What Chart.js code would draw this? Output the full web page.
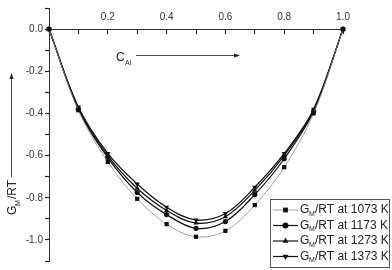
<!DOCTYPE html>
<html>
<head>
<meta charset="utf-8">
<script src="https://cdn.jsdelivr.net/npm/chart.js@4"></script>
<style>
  html, body { margin: 0; padding: 0; background: #fff; }
  #wrap { width: 392px; height: 270px; }
</style>
</head>
<body>
<div id="wrap"><canvas id="gm-chart"></canvas></div>
<script>
var cAl = [0, 0.1, 0.2, 0.3, 0.4, 0.5, 0.6, 0.7, 0.8, 0.9, 1.0];
var g1073 = [0, -0.385, -0.63, -0.805, -0.925, -0.985, -0.957, -0.835, -0.655, -0.40, 0];
var g1173 = [0, -0.38, -0.61, -0.775, -0.88, -0.945, -0.913, -0.785, -0.615, -0.39, 0];
var g1273 = [0, -0.375, -0.60, -0.755, -0.86, -0.92, -0.89, -0.765, -0.60, -0.385, 0];
var g1373 = [0, -0.37, -0.59, -0.735, -0.845, -0.905, -0.875, -0.75, -0.59, -0.38, 0];
var temps = ['1073', '1173', '1273', '1373'];

function pts(ys) {
    return cAl.map(function (x, i) { return {x: x, y: ys[i]}; });
}

function series(label, ys, style, rot, color, width) {
    return {
        label: label,
        data: pts(ys),
        borderColor: color,
        borderWidth: width,
        backgroundColor: '#111',
        pointBackgroundColor: '#111',
        pointBorderColor: '#111',
        pointBorderWidth: 0,
        pointStyle: style,
        pointRotation: rot,
        pointRadius: style === 'circle' ? 2.6 : 3,
        tension: 0.35,
        clip: false
    };
}

// legend + axis annotations drawn on the canvas
var extras = {
    id: 'extras',
    afterDraw: function (chart) {
        var c = chart.ctx;
        c.save();
        c.fillStyle = '#222';
        c.strokeStyle = '#222';

        // C_Al arrow
        c.font = '12px "Liberation Sans", Arial, sans-serif';
        c.textBaseline = 'alphabetic';
        c.fillText('C', 116, 61);
        c.font = '7px "Liberation Sans", Arial, sans-serif';
        c.fillText('Al', 125, 65);
        c.lineWidth = 0.8;
        c.beginPath();
        c.moveTo(136, 55.5);
        c.lineTo(236, 55.5);
        c.stroke();
        c.beginPath();
        c.moveTo(240, 55.5);
        c.lineTo(234, 53.5);
        c.lineTo(234, 57.5);
        c.closePath();
        c.fill();

        // y title G_M/RT with arrow
        c.save();
        c.translate(16, 198);
        c.rotate(-Math.PI / 2);
        c.font = '12px "Liberation Sans", Arial, sans-serif';
        c.fillText('G', -17, 0);
        c.font = '7px "Liberation Sans", Arial, sans-serif';
        c.fillText('M', -8, 4);
        c.font = '12px "Liberation Sans", Arial, sans-serif';
        c.fillText('/RT', -1, 0);
        c.restore();
        c.beginPath();
        c.moveTo(11.5, 177);
        c.lineTo(11.5, 78);
        c.stroke();
        c.beginPath();
        c.moveTo(11.5, 73);
        c.lineTo(9.5, 79);
        c.lineTo(13.5, 79);
        c.closePath();
        c.fill();

        // legend box
        c.lineWidth = 1;
        c.strokeStyle = '#555';
        c.strokeRect(270.5, 199.5, 119, 68);
        var ds = chart.data.datasets;
        for (var i = 0; i < ds.length; i++) {
            var y = 210 + i * 15.5;
            c.strokeStyle = ds[i].borderColor;
            c.lineWidth = ds[i].borderWidth;
            c.beginPath();
            c.moveTo(273, y);
            c.lineTo(298, y);
            c.stroke();
            c.fillStyle = '#111';
            Chart.helpers.drawPoint(c, {pointStyle: ds[i].pointStyle, rotation: ds[i].pointRotation, radius: ds[i].pointRadius + 0.4, borderWidth: 0}, 285.5, y);
            c.fillStyle = '#222';
            c.font = '12px "Liberation Sans", Arial, sans-serif';
            c.textBaseline = 'middle';
            c.fillText('G', 300, y);
            c.font = '7px "Liberation Sans", Arial, sans-serif';
            c.fillText('M', 309, y + 4);
            c.font = '12px "Liberation Sans", Arial, sans-serif';
            c.fillText('/RT at ' + temps[i] + ' K', 315, y);
        }
        c.restore();
    }
};

var axisGrid = {display: true, drawOnChartArea: false, drawTicks: true, tickLength: 4, tickColor: '#222', tickWidth: 1.2};

var ctx = document.getElementById('gm-chart');
var myChart = new Chart(ctx, {
    type: 'line',
    data: {
        datasets: [
            series('GM/RT at 1073 K', g1073, 'rect', 0, '#8a8a8a', 0.8),
            series('GM/RT at 1173 K', g1173, 'circle', 0, '#111', 1.2),
            series('GM/RT at 1273 K', g1273, 'triangle', 0, '#111', 1.2),
            series('GM/RT at 1373 K', g1373, 'triangle', 180, '#111', 1.2)
        ]
    },
    options: {
        responsive: true,
        maintainAspectRatio: false,
        animation: false,
        layout: {padding: {left: 0, top: 7, right: 49, bottom: 9}},
        plugins: {legend: {display: false}, tooltip: {enabled: false}},
        scales: {
            x: {
                type: 'linear',
                position: {y: 0},
                min: 0,
                max: 1.0,
                grid: axisGrid,
                border: {color: '#333', width: 1},
                ticks: {
                    stepSize: 0.1,
                    padding: -22,
                    color: '#333',
                    font: {family: '"Liberation Sans", Arial, sans-serif', size: 10},
                    maxRotation: 0,
                    autoSkip: false,
                    callback: function (v) {
                        var n = Math.round(v * 10);
                        return (n > 0 && n % 2 === 0) ? (n / 10).toFixed(1) : '';
                    }
                }
            },
            y: {
                min: -1.1,
                max: 0.1,
                afterFit: function (s) { s.width = 49; },
                grid: axisGrid,
                border: {color: '#333', width: 1},
                ticks: {
                    stepSize: 0.1,
                    padding: 2,
                    color: '#333',
                    font: {family: '"Liberation Sans", Arial, sans-serif', size: 10},
                    autoSkip: false,
                    callback: function (v) {
                        var n = Math.round(v * 10);
                        return (n <= 0 && n % 2 === 0) ? (n / 10).toFixed(1) : '';
                    }
                }
            }
        }
    },
    plugins: [extras]
});
</script>
</body>
</html>
